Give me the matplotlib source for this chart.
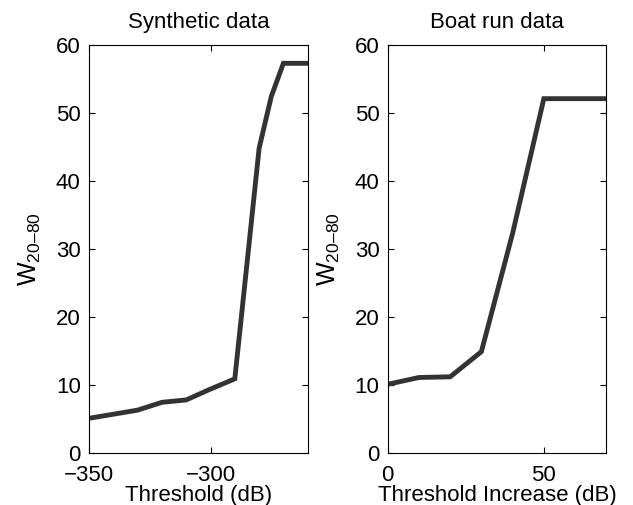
import matplotlib.pyplot as plt

plt.rcParams['font.family'] = ['Liberation Sans', 'DejaVu Sans']
plt.rcParams['mathtext.fontset'] = 'custom'
plt.rcParams['mathtext.rm'] = 'Liberation Sans'
plt.rcParams['mathtext.it'] = 'Liberation Sans'

# 数据
syn_threshold = [-350, -330, -320, -310, -300, -290, -285, -280, -275, -270, -260]
syn_w = [5.1, 6.3, 7.45, 7.8, 9.4, 10.9, 27.8, 44.8, 52.4, 57.3, 57.3]

boat_increase = [0, 10, 20, 30, 40, 50, 70]
boat_w = [10.1, 11.1, 11.2, 14.9, 32.3, 52.1, 52.1]

line_color = '#333333'
fs = 16
ylab = '$\\mathregular{W_{20\u201380}}$'

fig = plt.figure(figsize=(6.33, 5.05), dpi=100)
ax1 = fig.add_axes([0.1406, 0.103, 0.3455, 0.808])
ax2 = fig.add_axes([0.6125, 0.103, 0.3453, 0.808])

panels = [
    (ax1, syn_threshold, syn_w, 'Synthetic data', 'Threshold (dB)', (-350, -260), [-350, -300]),
    (ax2, boat_increase, boat_w, 'Boat run data', 'Threshold Increase (dB)', (0, 70), [0, 50]),
]

for ax, x, y, title, xlabel, xlim, xticks in panels:
    ax.plot(x, y, color=line_color, linewidth=3.5, solid_joinstyle='miter')
    ax.set_xlim(*xlim)
    ax.set_ylim(0, 60)
    ax.set_xticks(xticks)
    ax.set_yticks(range(0, 61, 10))
    ax.tick_params(direction='in', top=True, right=True, labelsize=fs, length=4)
    ax.tick_params(axis='y', pad=6)
    ax.tick_params(axis='x', pad=9)
    ax.set_title(title, fontsize=fs, pad=12)
    ax.set_xlabel(xlabel, fontsize=fs, labelpad=-1)
    ax.set_ylabel(ylab, fontsize=18, labelpad=9)
    for s in ax.spines.values():
        s.set_linewidth(0.8)

fig.savefig('out.png', dpi=100)
